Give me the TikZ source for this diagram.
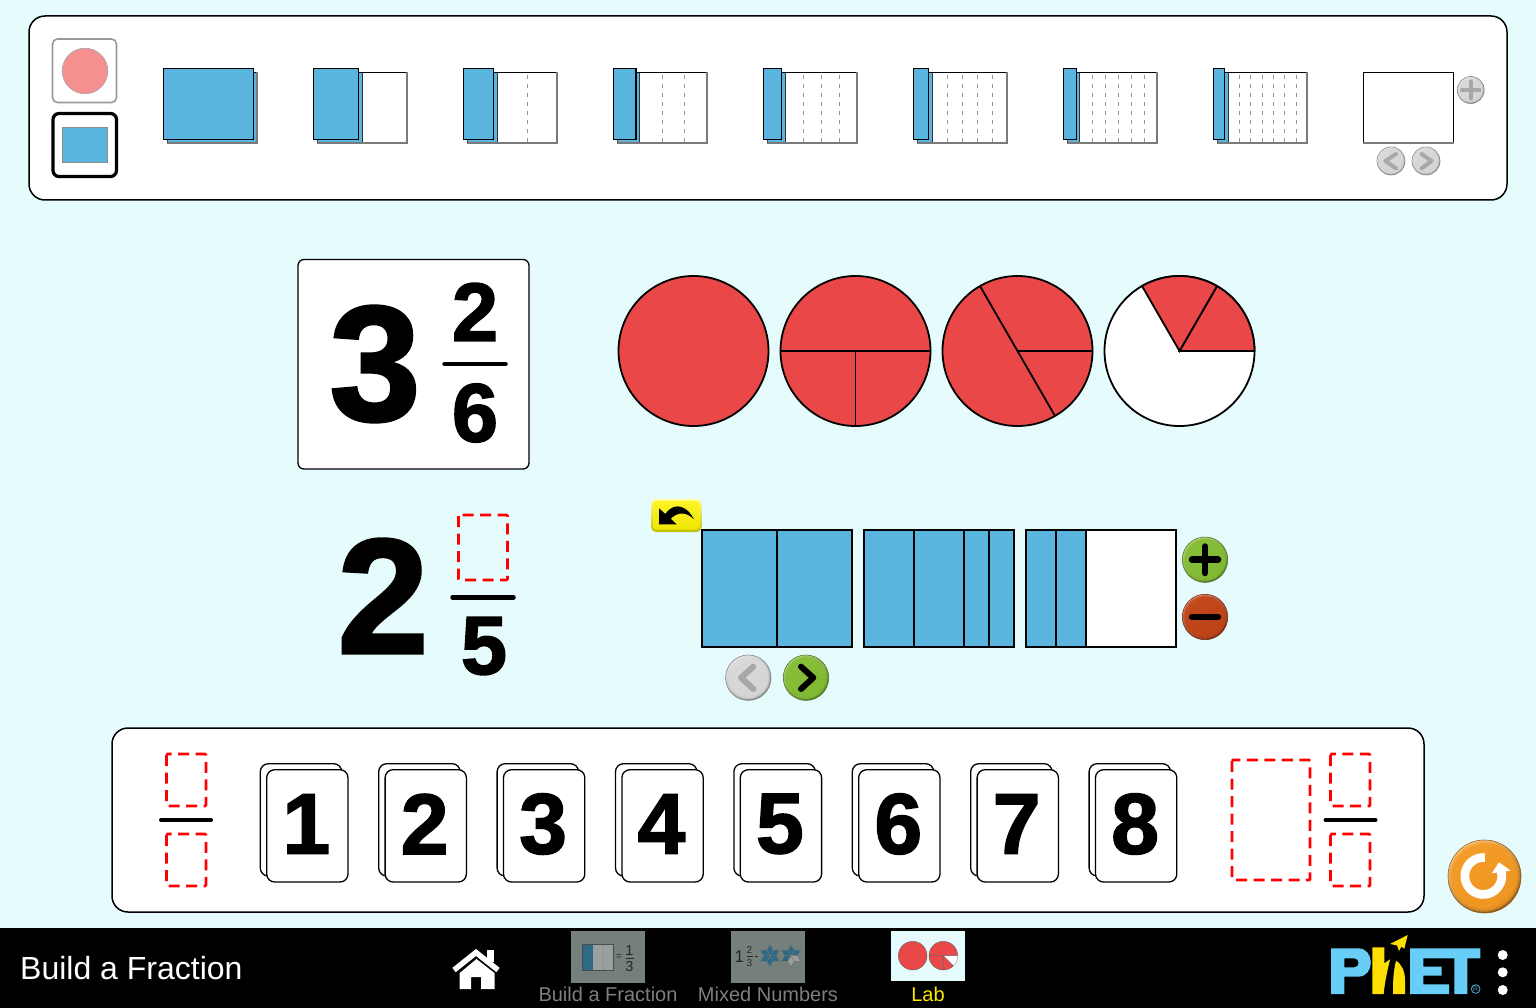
\documentclass[tikz,border=0pt]{standalone}
\usepackage{fontspec}
\setmainfont{Liberation Sans}
\newfontface\heavyfont[FakeBold=1.8]{Liberation Sans Bold}
\definecolor{bgc}{HTML}{E6FBFB}
\definecolor{bluec}{HTML}{59B4DE}
\definecolor{redc}{HTML}{EA4848}
\definecolor{pinkc}{HTML}{F49090}
\definecolor{greenc}{HTML}{85BE35}
\definecolor{rustc}{HTML}{C24518}
\definecolor{orangec}{HTML}{F59A23}
\definecolor{silverc}{HTML}{DADADA}
\definecolor{glyphc}{HTML}{A8A8A8}
\definecolor{phetblue}{HTML}{68CEF8}
\definecolor{phetyellow}{HTML}{FFDF00}
\definecolor{dimbg}{HTML}{757F7B}
\definecolor{dimblue}{HTML}{2E6A85}
\definecolor{dimgray}{HTML}{9AA09E}
\definecolor{navgray}{HTML}{7F7F7F}
\tikzset{
  panel/.style={draw=black,line width=1.5pt,fill=white,rounded corners=16pt},
  slot/.style={draw=red,line width=2.8pt,dash pattern=on 11pt off 6.5pt,rounded corners=1pt},
  fracbar/.style={line width=4.5pt,line cap=round},
  piece/.style={draw=black,line width=2pt,fill=bluec},
  emptypiece/.style={draw=black,line width=2pt,fill=white},
  card/.style={draw=black,line width=1.3pt,fill=white,rounded corners=8pt},
  wedge/.style={draw=black,line width=1.8pt,fill=redc},
  huge digit/.style={inner sep=0pt,font=\fontsize{164}{164}\heavyfont},
  mid digit/.style={inner sep=0pt,font=\fontsize{83}{83}\heavyfont},
  card digit/.style={inner sep=0pt,font=\fontsize{86}{86}\heavyfont},
  navtext/.style={inner sep=0pt,anchor=base,font=\fontsize{20}{20}\selectfont},
  icontext/.style={inner sep=0pt,font=\fontsize{#1}{#1}\selectfont,text=black!85},
  chev/.style={line width=#1,line cap=round,line join=round},
  chev/.default=4pt
}
\newcommand\glossy[4]{%
  \shade[top color=#4!45!white,bottom color=#4!50!black,shading angle=35] (#1,#2) circle[radius=#3];
  \draw[#4!60!black,line width=.6pt] (#1,#2) circle[radius=#3];
  \foreach \f in {.97,.94,.91,.88,.85}{\fill[#4,opacity=.45] (#1,#2) circle[radius=\f*#3];}%
}
\newcommand\sixstar[3]{%
  \begin{scope}[shift={(#1,#2)}]
  \foreach \a/\c in {#3}{%
    \fill[\c,draw=black!55,line width=.4pt] (0,0) -- (\a-30:6.4) -- (\a:11) -- (\a+30:6.4) -- cycle;}
  \end{scope}}
\begin{document}
\begin{tikzpicture}[x=1pt,y=-1pt]
\useasboundingbox (0,0) rectangle (1536,1008);
\fill[bgc] (0,0) rectangle (1536,1008);

% ---- top carousel
\draw[panel] (29,16) rectangle (1507,200);
\draw[draw=black!40,line width=1.6pt,fill=white,rounded corners=5pt] (52.5,39) rectangle (116.5,102.5);
\fill[pinkc,draw=black!35,line width=.6pt] (85,71) circle[radius=22.8];
\draw[draw=black,line width=3.2pt,fill=white,rounded corners=6pt] (53,113.5) rectangle (116.5,176.5);
\fill[bluec,draw=black!45,line width=.6pt] (62.5,127) rectangle (107.5,162.5);

\foreach \n in {1,...,8}{
  \pgfmathsetmacro\xz{163.3+150*(\n-1)}
  \pgfmathsetmacro\xb{\xz+3.7}
  \pgfmathsetmacro\xe{\xb+90.3}
  \pgfmathsetmacro\xbb{\xb+90.3/\n}
  \pgfmathsetmacro\xf{\xz+90.4/\n}
  \fill[white] (\xb,72.5) rectangle (\xe,143);
  \fill[bluec] (\xb,72.5) rectangle (\xbb,143);
  \draw[black!80,line width=1pt] (\xbb,72.5) -- (\xbb,143);
  \ifnum\n>2
    \pgfmathsetmacro\last{int(\n-1)}
    \foreach \k in {2,...,\last}{
      \pgfmathsetmacro\xd{\xb+90.3*\k/\n}
      \draw[black!42,line width=1pt,dash pattern=on 4.5pt off 4.5pt] (\xd,75) -- (\xd,143);
    }
  \fi
  \draw[black,line width=1.1pt] (\xb,72.5) -- (\xe,72.5);
  \draw[black!52,line width=2pt] (\xb,143) -- (\xe,143) -- (\xe,72.5);
  \draw[black!70,line width=1pt] (\xb,143) -- (\xb,139);
  \fill[bluec,draw=black,line width=1.3pt] (\xz,68.3) rectangle (\xf,139.3);
}
% empty slot
\fill[white] (1363.3,72.5) rectangle (1453.7,143);
\draw[black,line width=1.1pt] (1453.7,143) -- (1453.7,72.5) -- (1363.3,72.5) -- (1363.3,143);
\draw[black!52,line width=2pt] (1363.3,143) -- (1453.7,143);
\glossy{1470.7}{90}{13.5}{silverc}
\draw[glyphc,chev=4pt] (1462,90) -- (1479.4,90) (1470.7,81.5) -- (1470.7,98.5);
\glossy{1391}{161}{14}{silverc}
\draw[glyphc,chev=4pt] (1396,154) -- (1385.3,161) -- (1396,168.3);
\glossy{1426}{161}{14}{silverc}
\draw[glyphc,chev=4pt] (1421.6,154) -- (1431.7,161) -- (1421.6,168.3);

% ---- collected mixed number
\draw[draw=black,line width=1.3pt,fill=white,rounded corners=6pt] (298,259.5) rectangle (529,469);
\node[huge digit] (big3) at (375,364) {3};
\node[mid digit] (num2) at (475,312) {2};
\node[mid digit] (den6) at (475,413) {6};
\draw[fracbar] (444.5,364) -- (505.5,364);

% ---- circles
\foreach \cx in {693.5}{\fill[wedge] (\cx,351) circle[radius=75];}
\coordinate (c2) at (855.5,351);
\fill[wedge] (c2) circle[radius=75];
\draw[black,line width=1.8pt] ([xshift=-75pt]c2) -- ([xshift=75pt]c2) (c2) -- ([yshift=-75pt]c2);
\coordinate (c3) at (1017.5,351);
\fill[wedge] (c3) circle[radius=75];
\draw[black,line width=1.8pt] ([shift={(-120:75)}]c3) -- ([shift={(60:75)}]c3) (c3) -- ([xshift=75pt]c3);
\coordinate (c4) at (1179.5,351);
\draw[draw=black,line width=1.8pt,fill=white] (c4) circle[radius=75];
\draw[wedge] (c4) -- ([xshift=75pt]c4) arc[start angle=0,end angle=60,radius=75pt] -- cycle;
\draw[wedge] (c4) -- ([shift={(-60:75)}]c4) arc[start angle=60,end angle=120,radius=75pt] -- cycle;

% ---- mixed number being built
\node[huge digit] (big2) at (383,596) {2};
\draw[slot] (458.5,515) rectangle (507.5,580);
\draw[fracbar] (452.5,597.5) -- (513.5,597.5);
\node[mid digit] (den5) at (484,646) {5};

% ---- undo button
\shade[top color=yellow!30!white,bottom color=yellow!75!black,rounded corners=5pt] (651,498.5) rectangle (701.5,532);
\fill[yellow,opacity=.75,rounded corners=4pt] (652.5,500.5) rectangle (700,529.5);
\begin{scope}[shift={(640,490)},x=.3333pt,y=-.3333pt]
\fill[black] (57,55) -- (57,103) -- (110,103) -- (92,86) .. controls (115,64) and (140,66) .. (162,88) .. controls (145,52) and (105,30) .. (76,72) -- cycle;
\end{scope}

% ---- pie bars
\draw[piece] (702,530) rectangle (777,647);
\draw[piece] (777,530) rectangle (852,647);
\draw[piece] (864,530) rectangle (914,647);
\draw[piece] (914,530) rectangle (964,647);
\draw[piece] (964,530) rectangle (989,647);
\draw[piece] (989,530) rectangle (1014,647);
\draw[emptypiece] (1026,530) rectangle (1176,647);
\draw[piece] (1026,530) rectangle (1056,647);
\draw[piece] (1056,530) rectangle (1086,647);

\glossy{748.3}{677.7}{22.7}{silverc}
\draw[glyphc,chev=6pt] (753.3,666.7) -- (741,677.7) -- (753.3,689);
\glossy{806}{677.7}{22.7}{greenc}
\draw[black,chev=6pt] (801,666.7) -- (813.3,677.7) -- (801,689);
\glossy{1205}{559.7}{22.7}{greenc}
\draw[black,chev=6.5pt] (1192,559.7) -- (1218,559.7) (1205,546.5) -- (1205,573);
\glossy{1205}{617}{22.7}{rustc}
\draw[black,chev=6.5pt] (1192,617) -- (1218,617);

% ---- bottom tray
\draw[panel] (112,728) rectangle (1424,912);
\draw[slot] (166.5,754) rectangle (206,806);
\draw[slot] (166.5,834) rectangle (206,886);
\draw[fracbar,line width=4pt] (161,820) -- (211,820);
\foreach \i/\d in {0/1,1/2,2/3,3/4,4/5,5/6,6/7,7/8}{
  \pgfmathsetmacro\cxa{260.3+118.4*\i}
  \pgfmathsetmacro\cxb{\cxa+81.4}
  \pgfmathsetmacro\cxc{\cxa+6.4}
  \pgfmathsetmacro\cxd{\cxc+81.3}
  \pgfmathsetmacro\cxm{\cxa+46}
  \draw[card] (\cxa,763.7) rectangle (\cxb,876);
  \draw[card] (\cxc,769.7) rectangle (\cxd,882);
  \node[card digit] (digit\d) at (\cxm,824) {\d};
}
\draw[slot] (1232,760) rectangle (1310,880);
\draw[slot] (1330.5,754) rectangle (1370,806);
\draw[slot] (1330.5,834) rectangle (1370,886);
\draw[fracbar,line width=4pt] (1325.5,820) -- (1375.5,820);

% ---- reset button
\glossy{1484.5}{876.5}{36.5}{orangec}
\coordinate (rc) at (1483.3,876);
\draw[white,line width=8.7pt] ([shift={(-85:18.5)}]rc) arc[start angle=85,end angle=375,radius=18.5pt];
\fill[white] (1491.7,873.3) -- (1499,862.3) -- (1510.7,870.7) -- cycle;

% ---- navigation bar
\fill[black] (0,928) rectangle (1536,1008);
\node[anchor=base west,inner sep=0pt,text=white,font=\fontsize{32}{32}\selectfont] (title) at (20,979) {Build a Fraction};

% home
\fill[white] (486.5,950) rectangle (493.5,962);
\fill[black] (484,957) -- (500,972) -- (493,972) -- (478,957) -- cycle;
\draw[white,line width=5.5pt,line join=miter] (454,970) -- (476,952.5) -- (498,970);
\fill[white] (459.7,973) -- (476.5,959) -- (494.5,973) -- (494.5,989) -- (481,989) -- (481,977) -- (471,977) -- (471,989) -- (459.7,989) -- cycle;

% icon: build a fraction
\fill[dimbg] (571,931) rectangle (645,982.5);
\fill[dimgray] (582,944) rectangle (613.4,970);
\fill[dimblue] (582,944) rectangle (592.8,970);
\draw[black!45,line width=.5pt,dash pattern=on 1.5pt off 1.5pt] (603,944) -- (603,970);
\draw[black!70,line width=.6pt] (582,944) rectangle (613.4,970);
\node[icontext=10] (ieq) at (619,957) {=};
\node[icontext=14.5] (inum) at (629.5,950.5) {1};
\node[icontext=14.5] (iden) at (629.5,966.5) {3};
\draw[black!85,line width=1pt] (625.5,958.4) -- (633.8,958.4);
\node[navtext,text=navgray] (lab1) at (608,1001) {Build a Fraction};

% icon: mixed numbers
\fill[dimbg] (731,931) rectangle (805,982.5);
\node[icontext=17] (mone) at (739.3,956.3) {1};
\node[icontext=10] (mnum) at (749.5,949.5) {2};
\node[icontext=10] (mden) at (749.5,963) {3};
\draw[black!85,line width=.8pt] (746.5,956.3) -- (752.5,956.3);
\draw[black!85,line width=1.2pt] (755,956.5) -- (758,956.5);
\sixstar{770}{955.7}{-90/dimblue,-30/dimblue,30/dimblue,90/dimblue,150/dimblue,210/dimblue}
\sixstar{791}{955.7}{-90/dimblue,-30/dimblue,150/dimblue,210/dimblue,30/dimgray,90/dimgray}
\node[navtext,text=navgray] (lab2) at (768,1001) {Mixed Numbers};

% icon: lab
\fill[bgc] (891,931) rectangle (965,981);
\fill[redc,draw=black!60,line width=.5pt] (912.7,955.7) circle[radius=14.3];
\coordinate (lc) at (943.3,955.7);
\fill[redc,draw=black!60,line width=.5pt] (lc) circle[radius=14.3];
\fill[white] (lc) -- ([xshift=14.3pt]lc) arc[start angle=0,end angle=-45,radius=14.3pt] -- cycle;
\draw[black!60,line width=.5pt] ([xshift=-14.3pt]lc) -- ([xshift=14.3pt]lc) (lc) -- ([yshift=-14.3pt]lc) (lc) -- ([shift={(45:14.3)}]lc);
\node[navtext,text=yellow!90!orange] (lab3) at (928,1001) {Lab};

% PhET logo
\begin{scope}[shift={(1325,930)},x=.3333pt,y=-.3333pt]
\fill[phetblue,even odd rule] (18,55) -- (100,55) .. controls (150,55) and (150,140) .. (100,140) -- (58,140) -- (58,192) -- (18,192) -- cycle
  (58,85) -- (58,112) -- (88,112) .. controls (105,112) and (105,85) .. (88,85) -- cycle;
\fill[phetyellow] (142,52) -- (178,52) -- (178,100) -- (195,88) .. controls (188,120) and (180,150) .. (176,192) -- (142,192) -- cycle;
\fill[phetyellow] (213,92) .. controls (232,105) and (240,125) .. (240,150) -- (240,192) -- (204,192) .. controls (204,150) and (205,125) .. (213,92) -- cycle;
\fill[phetyellow] (248,15) -- (195,42) -- (216,46) -- (222,63) -- (229,50) -- (238,56) -- cycle;
\fill[phetblue] (255,55) -- (466,55) -- (466,85) -- (427,85) -- (427,192) -- (388,192) -- (388,85) -- (295,85) -- (295,110) -- (350,110) -- (350,137) -- (295,137) -- (295,163) -- (372,163) -- (372,192) -- (255,192) -- cycle;
\draw[phetblue!75!black,line width=.9pt] (452,177) circle[radius=13];
\node[inner sep=0pt,text=phetblue!75!black,font=\fontsize{7}{7}\selectfont] (reg) at (452,177) {R};
\end{scope}
\fill[white] (1502.7,955) circle[radius=5];
\fill[white] (1502.7,972.3) circle[radius=5];
\fill[white] (1502.7,990) circle[radius=5];
\end{tikzpicture}
\end{document}
